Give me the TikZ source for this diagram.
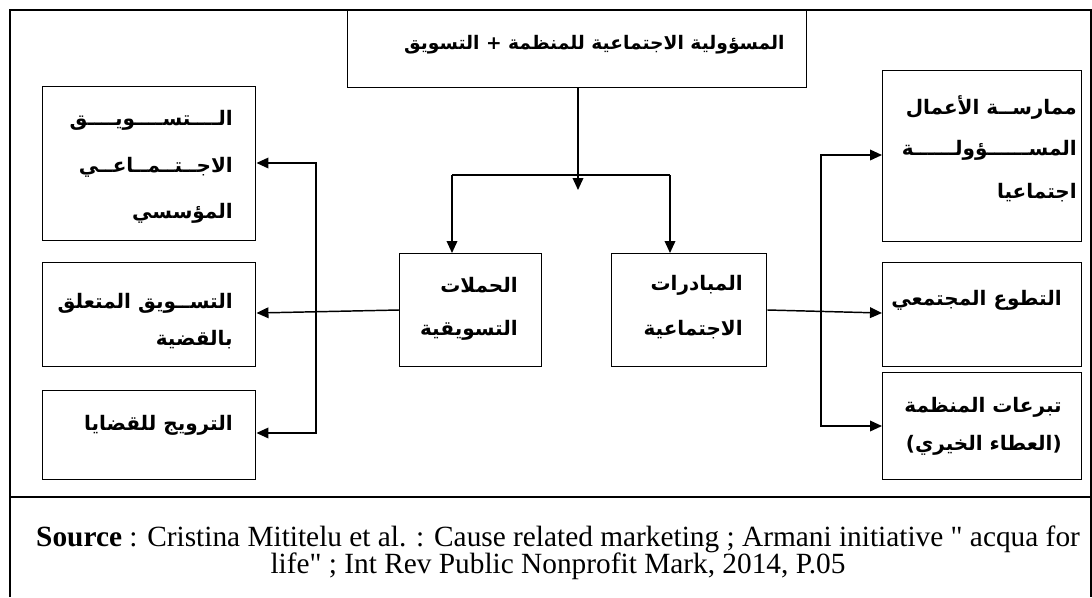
\documentclass[tikz,border=0pt]{standalone}
\usepackage{fontspec}
\setmainfont{Liberation Serif}[Ligatures=TeXOff]
\newfontfamily\arabicfont[Script=Arabic]{DejaVu Sans}
\TeXXeTstate=1
\usetikzlibrary{arrows.meta}
\newcommand{\artxt}[1]{{\arabicfont\bfseries\fontsize{15}{18}\selectfont\beginR #1\endR}}
\newcommand{\artitle}[1]{{\arabicfont\bfseries\fontsize{14}{17}\selectfont\beginR #1\endR}}
\newcommand{\bx}[5]{\node[box,minimum width={(#4-#2)*0.75pt},minimum height={(#5-#3)*0.75pt}] (#1) at (#2,#3) {};}
\begin{document}
\begin{tikzpicture}[x=0.75pt,y=-0.75pt,
  box/.style={draw,line width=1.1pt,inner sep=0pt,anchor=north west,rectangle},
  frame/.style={line width=1.3pt},
  arr/.style={line width=1.1pt,-{Triangle[length=9pt,width=8pt]}},
  ln/.style={line width=1.1pt},
  txt/.style={inner sep=0pt,anchor=east},
  src/.style={inner sep=0pt,font=\fontsize{22}{25}\selectfont}]
\useasboundingbox (0,0) rectangle (1092,597);
% outer frame
\draw[frame] (10,597) -- (10,10) -- (1091,10) -- (1091,597);
\draw[frame] (10,497) -- (1091,497);
% boxes
\bx{top}{347}{10}{806}{87}
\bx{lb1}{42}{86}{255}{240}
\bx{lb2}{42}{262}{255}{366}
\bx{lb3}{42}{390}{255}{479}
\bx{ml}{399}{253}{541}{366}
\bx{mr}{611}{253}{766}{366}
\bx{rb1}{882}{70}{1081}{241}
\bx{rb2}{882}{262}{1081}{366}
\bx{rb3}{882}{372}{1081}{479}
% texts
\node[txt] (t0) at (785,45) {\artitle{المسؤولية الاجتماعية للمنظمة + التسويق}};
\node[txt] (t1) at (233,120) {\artxt{الــــتســــويــــق}};
\node[txt] (t2) at (233,167) {\artxt{الاجــتــمــاعــي}};
\node[txt] (t3) at (233,213) {\artxt{المؤسسي}};
\node[txt] (t4) at (233,303) {\artxt{التســويق المتعلق}};
\node[txt] (t5) at (233,340) {\artxt{بالقضية}};
\node[txt] (t6) at (233,425) {\artxt{الترويج للقضايا}};
\node[txt] (t7) at (518,285) {\artxt{الحملات}};
\node[txt] (t8) at (518,330) {\artxt{التسويقية}};
\node[txt] (t9) at (743,285) {\artxt{المبادرات}};
\node[txt] (t10) at (743,330) {\artxt{الاجتماعية}};
\node[txt] (t11) at (1077,107) {\artxt{ممارســة الأعمال}};
\node[txt] (t12) at (1077,150) {\artxt{المســــــؤولــــــة}};
\node[txt] (t13) at (1077,193) {\artxt{اجتماعيا}};
\node[txt] (t14) at (1062,300) {\artxt{التطوع المجتمعي}};
\node[txt] (t15) at (1062,407) {\artxt{تبرعات المنظمة}};
\node[txt] (t16) at (1062,445) {\artxt{(العطاء الخيري)}};
% connectors
\coordinate (jl) at (452,175);
\coordinate (jr) at (670,175);
\coordinate (jm) at (578,190);
\draw[arr] (top.south -| jm) -- (jm);
\draw[ln] (jl) -- (jr);
\draw[arr] (jl) -- (jl |- ml.north);
\draw[arr] (jr) -- (jr |- mr.north);
% left side
\coordinate (lv1) at (316,163);
\coordinate (lv3) at (316,433);
\draw[arr] (lv3) -- (lv1) -- (lv1 -| lb1.east);
\draw[arr] (lv1) -- (lv3) -- (lv3 -| lb3.east);
\draw[arr] (ml.west |- 0,310) -- (lb2.east |- 0,313);
% right side
\coordinate (rv1) at (821,155);
\coordinate (rv3) at (821,426);
\draw[arr] (rv3) -- (rv1) -- (rv1 -| rb1.west);
\draw[arr] (rv1) -- (rv3) -- (rv3 -| rb3.west);
\draw[arr] (mr.east |- 0,310) -- (rb2.west |- 0,313);
% source
\node[src] (s1) at (558,539) {\textbf{Source} : Cristina Mititelu et al. : Cause related marketing ; Armani initiative " acqua for};
\node[src] (s2) at (558,566) {life" ; Int Rev Public Nonprofit Mark, 2014, P.05};
\end{tikzpicture}
\end{document}
